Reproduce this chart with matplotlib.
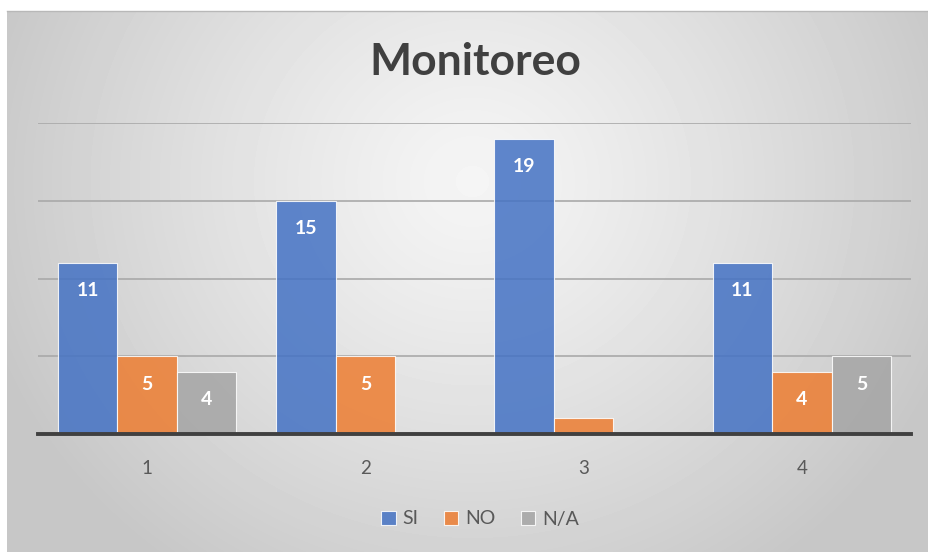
import numpy as np
import matplotlib.pyplot as plt

plt.rcParams['font.family'] = ['Lato', 'DejaVu Sans']

groups = ['1', '2', '3', '4']
series = ['SI', 'NO', 'N/A']
si = [11, 15, 19, 11]
no = [5, 5, 1, 4]
na = [4, 0, 0, 5]
colors = ['#4472C4', '#ED7D31', '#A5A5A5']

fig = plt.figure(figsize=(9.29, 5.52), dpi=100)

# background panel with soft radial gradient
bg = fig.add_axes([7/929, 0, 1 - 7/929, 1 - 11/552])
h, w = 541, 922
yy, xx = np.mgrid[0:h, 0:w]
d = np.sqrt(((xx - 465) / 600.0) ** 2 + ((yy - 170) / 560.0) ** 2)
shade = np.clip(0.96 - 0.22 * d ** 1.2, 0.78, 1.0)
bg.imshow(shade, cmap='gray', vmin=0, vmax=1, aspect='auto', extent=[0, 1, 0, 1])
bg.set_xticks([])
bg.set_yticks([])
for s in bg.spines.values():
    s.set_visible(False)
bg.spines['top'].set_visible(True)
bg.spines['top'].set_color('#b8b8b8')
bg.spines['top'].set_linewidth(1)

ax = fig.add_axes([38/929, 1 - 434/552, 873/929, (434 - 123)/552])
ax.set_facecolor('none')
ax.set_xlim(-0.5, 3.5)
ax.set_ylim(0, 20)

x = np.arange(len(groups))
bw = 0.273
for i, (vals, c, name) in enumerate(zip([si, no, na], colors, series)):
    pos = x + (i - 1) * bw
    ax.bar(pos, vals, width=bw, color=c, alpha=0.85, edgecolor=(1, 1, 1, 0.45),
           linewidth=0.8, label=name, zorder=3)
    for xp, v in zip(pos, vals):
        if v >= 2:
            ax.text(xp, v - 1.8, str(v), ha='center', va='center', color='white',
                    fontsize=14, fontweight='bold', zorder=4)

ax.set_yticks([5, 10, 15, 20])
ax.yaxis.grid(True, color='#a9a9a9', linewidth=1.2, zorder=1)
ax.tick_params(axis='y', left=False, labelleft=False)
ax.set_xticks(x)
ax.set_xticklabels(groups, fontsize=13.5, color='#595959')
ax.tick_params(axis='x', length=0, pad=19)
for s in ['top', 'right', 'left']:
    ax.spines[s].set_visible(False)
ax.spines['bottom'].set_color('#404040')
ax.spines['bottom'].set_linewidth(2.8)
ax.spines['bottom'].set_zorder(5)

fig.text(475/929, 1 - 62/552, 'Monitoreo', ha='center', va='center', fontsize=32,
         fontweight='bold', color='#404040')

fig.legend(loc='center', bbox_to_anchor=(480/929, 1 - 519/552), ncol=3, frameon=False,
           fontsize=14, labelcolor='#595959', handlelength=0.75, handleheight=0.75,
           handletextpad=0.35, columnspacing=1.3)

fig.savefig('out.png', dpi=100)
